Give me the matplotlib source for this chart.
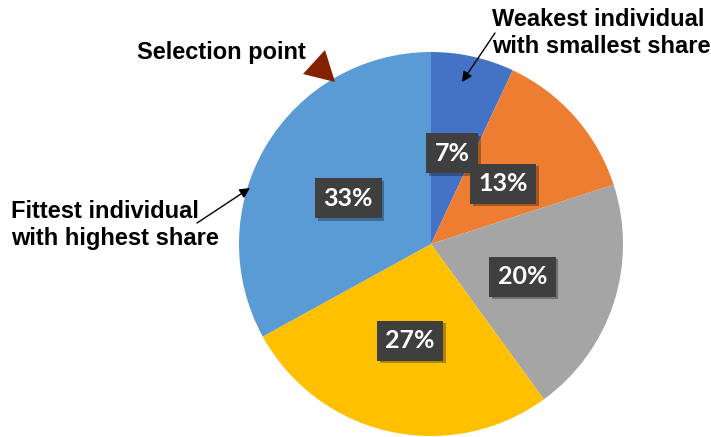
import matplotlib.pyplot as plt
import matplotlib.patheffects as pe
from matplotlib.patches import Polygon

# roulette-wheel shares, clockwise from 12 o'clock
shares = [7, 13, 20, 27, 33]
colors = ["#4472C4", "#ED7D31", "#A5A5A5", "#FFC000", "#5B9BD5"]

W, H = 711, 437
fig = plt.figure(figsize=(W / 100, H / 100), dpi=100)
ax = fig.add_axes([0, 0, 1, 1])

cx, cy, r = 431, H - 244, 192

wedges, texts, autotexts = ax.pie(
    shares, colors=colors, startangle=90, counterclock=False,
    center=(cx, cy), radius=r, autopct="%d%%", pctdistance=0.5,
    wedgeprops=dict(linewidth=0), frame=True,
)
ax.set_xlim(0, W)
ax.set_ylim(0, H)
ax.set_aspect("equal")
ax.axis("off")

for t in autotexts:
    t.set_color("white")
    t.set_fontsize(18)
    t.set_fontweight("bold")
    t.set_family("Lato")
    t.set_bbox(dict(boxstyle="square,pad=0.34", fc="#3f3f3f", ec="none"))
    t.get_bbox_patch().set_path_effects(
        [pe.SimplePatchShadow(offset=(2, -2), shadow_rgbFace="black", alpha=0.3), pe.Normal()])
    # nudge down a touch so the boxes sit where the wheel's labels sit
    x, y = t.get_position()
    t.set_position((x, y - 3))

lab = dict(fontsize=17, fontweight="bold", family="Liberation Sans", color="black")
arrow = dict(arrowstyle="-|>", color="black", lw=1, mutation_scale=15, shrinkA=0, shrinkB=0)

ax.text(137, H - 53, "Selection point", va="center", ha="left", **lab)
# pointer marker at the rim
ax.add_patch(Polygon([(303, H - 74), (325, H - 50), (335, H - 82)],
                     closed=True, fc="#832200", ec="none"))

ax.text(492, H - 33, "Weakest individual\nwith smallest share",
        ha="left", va="center", linespacing=1.27, **lab)
ax.annotate("", xy=(462, H - 82), xytext=(495, H - 33), arrowprops=arrow)

ax.text(11, H - 225, "Fittest individual\nwith highest share",
        ha="left", va="center", linespacing=1.27, **lab)
ax.annotate("", xy=(250, H - 188), xytext=(197, H - 223), arrowprops=arrow)

fig.savefig("out.png", dpi=100)
